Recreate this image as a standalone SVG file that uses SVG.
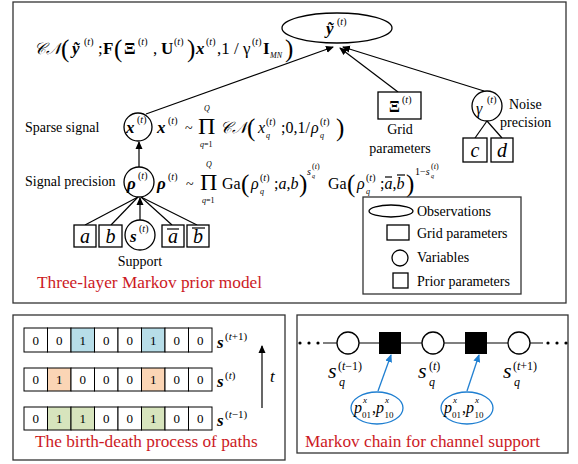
<svg xmlns="http://www.w3.org/2000/svg" width="578" height="464" viewBox="0 0 578 464">
<style>
.s{font-family:"Liberation Serif","DejaVu Serif",serif;fill:#000}
.f14{font-size:14px}
.f16{font-size:16px}
.f17{font-size:17px}
.sup{font-size:10px}
.sub{font-size:8px}
.big{font-size:25px}
.prod{font-size:24px}
.i{font-style:italic}
.b{font-weight:bold}
.bi{font-weight:bold;font-style:italic}
.red{fill:#cc1a1f;font-size:17.3px}
.ln{stroke:#000;stroke-width:1.2;fill:none}
.nd{stroke:#000;stroke-width:1.3;fill:#fff}
.frame{stroke:#333;stroke-width:1.3;fill:none}
.cell{stroke:#000;stroke-width:1;}
.blue{stroke:#1f7fd1;stroke-width:1.3;fill:none}
</style>
<defs>
<marker id="ah" markerWidth="8" markerHeight="8" refX="7" refY="4" orient="auto" markerUnits="userSpaceOnUse">
<path d="M0,0.5 L8,4 L0,7.5 z" fill="#000"/>
</marker>
<marker id="ahb" markerWidth="8" markerHeight="8" refX="7" refY="4" orient="auto" markerUnits="userSpaceOnUse">
<path d="M0,0.5 L8,4 L0,7.5 z" fill="#1f7fd1"/>
</marker>
</defs>
<rect width="578" height="464" fill="#fff"/>

<!-- frames -->
<rect class="frame" x="13" y="2" width="553" height="301"/>
<rect class="frame" x="13" y="315" width="272" height="145"/>
<rect class="frame" x="297" y="315" width="271" height="138"/>

<!-- connectors -->
<g id="connectors">
<line class="ln" x1="146" y1="114" x2="333" y2="47" marker-end="url(#ah)"/>
<line class="ln" x1="398" y1="92" x2="340" y2="48" marker-end="url(#ah)"/>
<line class="ln" x1="484" y1="91" x2="343" y2="47" marker-end="url(#ah)"/>
<line class="ln" x1="139" y1="167" x2="139" y2="142" marker-end="url(#ah)"/>
<line class="ln" x1="140" y1="220" x2="140" y2="198" marker-end="url(#ah)"/>
<line class="ln" x1="85" y1="225" x2="138" y2="197"/>
<line class="ln" x1="111" y1="225" x2="138" y2="197"/>
<line class="ln" x1="172" y1="225" x2="141" y2="197"/>
<line class="ln" x1="197" y1="225" x2="141" y2="197"/>
<line class="ln" x1="487" y1="121" x2="475" y2="138"/>
<line class="ln" x1="487" y1="121" x2="502" y2="138"/>
<line class="ln" x1="262" y1="408" x2="262" y2="346" marker-end="url(#ah)"/>
<line class="ln" x1="323" y1="343" x2="543" y2="343"/>
<line class="blue" x1="378" y1="391" x2="391" y2="355" marker-end="url(#ahb)"/>
<line class="blue" x1="467" y1="391" x2="479" y2="355" marker-end="url(#ahb)"/>
</g>

<!-- observation node -->
<g id="node-y">
<ellipse class="nd" cx="337" cy="28" rx="55" ry="15"/>
<text class="s bi f17" x="326" y="34">ỹ</text>
<text class="s sup" x="337" y="25">(<tspan class="i">t</tspan>)</text>
</g>

<!-- likelihood formula -->
<g id="formula-likelihood" class="s">
<text class="i f16" x="34" y="54">𝒞𝒩</text>
<text class="big" x="61" y="57">(</text>
<text class="bi f17" x="72" y="54">ỹ</text>
<text class="sup" x="84" y="45">(<tspan class="i">t</tspan>)</text>
<text class="f17" x="98" y="54">;</text>
<text class="b f17" x="103" y="54">F</text>
<text class="big" x="114" y="57">(</text>
<text class="b f17" x="124" y="54">Ξ</text>
<text class="sup" x="138" y="45">(<tspan class="i">t</tspan>)</text>
<text class="f17" x="153" y="54">,</text>
<text class="b f17" x="161" y="54">U</text>
<text class="sup" x="174" y="45">(<tspan class="i">t</tspan>)</text>
<text class="big" x="187" y="57">)</text>
<text class="bi f17" x="196" y="54">x</text>
<text class="sup" x="206" y="45">(<tspan class="i">t</tspan>)</text>
<text class="f17" x="217" y="54">,1 / γ</text>
<text class="sup" x="252" y="45">(<tspan class="i">t</tspan>)</text>
<text class="b f17" x="263" y="54">I</text>
<text class="i sub" x="270" y="58">MN</text>
<text class="big" x="285" y="57">)</text>
</g>

<!-- Sparse signal -->
<g id="node-x">
<text class="s f14" x="25" y="132">Sparse signal</text>
<circle class="nd" cx="138" cy="127" r="14"/>
<text class="s bi f17" x="126" y="133">x</text>
<text class="s sup" x="137" y="123">(<tspan class="i">t</tspan>)</text>
</g>
<g id="formula-x" class="s">
<text class="bi f17" x="157" y="133">x</text>
<text class="sup" x="168" y="124">(<tspan class="i">t</tspan>)</text>
<text class="f14" x="185" y="133">~</text>
<text class="prod" x="198" y="134">Π</text>
<text class="i sub" x="204" y="110.5">Q</text>
<text class="sub" x="200" y="147"><tspan class="i">q</tspan>=1</text>
<text class="i f16" x="220" y="133">𝒞𝒩</text>
<text class="big" x="247" y="136">(</text>
<text class="i f16" x="258" y="133">x</text>
<text class="sup" x="266" y="125">(<tspan class="i">t</tspan>)</text>
<text class="i sub" x="266" y="138">q</text>
<text class="f16" x="281" y="133">;0,1/</text>
<text class="i f16" x="311" y="133">ρ</text>
<text class="sup" x="320" y="125">(<tspan class="i">t</tspan>)</text>
<text class="i sub" x="320" y="138">q</text>
<text class="big" x="336" y="136">)</text>
</g>

<!-- Signal precision -->
<g id="node-rho">
<text class="s f14" x="25" y="186">Signal precision</text>
<circle class="nd" cx="139" cy="182" r="15"/>
<text class="s bi f17" x="127" y="189">ρ</text>
<text class="s sup" x="138" y="179">(<tspan class="i">t</tspan>)</text>
</g>
<g id="formula-rho" class="s">
<text class="bi f17" x="157" y="189">ρ</text>
<text class="sup" x="168" y="180">(<tspan class="i">t</tspan>)</text>
<text class="f14" x="186" y="189">~</text>
<text class="prod" x="200" y="190">Π</text>
<text class="i sub" x="206" y="166.5">Q</text>
<text class="sub" x="202" y="203"><tspan class="i">q</tspan>=1</text>
<text class="f16" x="222" y="189">Ga</text>
<text class="big" x="241" y="192">(</text>
<text class="i f16" x="251" y="189">ρ</text>
<text class="sup" x="260" y="181">(<tspan class="i">t</tspan>)</text>
<text class="i sub" x="260" y="194">q</text>
<text class="f16" x="274" y="189">;<tspan class="i">a</tspan>,<tspan class="i">b</tspan></text>
<text class="big" x="299" y="192">)</text>
<text class="i sup" x="307" y="175">s</text>
<text class="sub" font-size="6" x="312" y="169">(<tspan class="i">t</tspan>)</text>
<text class="i" font-size="6" x="312" y="178">q</text>
<text class="f16" x="328" y="189">Ga</text>
<text class="big" x="347" y="192">(</text>
<text class="i f16" x="357" y="189">ρ</text>
<text class="sup" x="366" y="181">(<tspan class="i">t</tspan>)</text>
<text class="i sub" x="366" y="194">q</text>
<text class="f16" x="380" y="189">;<tspan class="i">a</tspan>,<tspan class="i">b</tspan></text>
<line class="ln" stroke-width="0.9" x1="385" y1="177" x2="392" y2="177"/>
<line class="ln" stroke-width="0.9" x1="397" y1="175" x2="405" y2="175"/>
<text class="big" x="406" y="192">)</text>
<text class="sup" x="415" y="175">1−<tspan class="i">s</tspan></text>
<text class="sub" font-size="6" x="431" y="169">(<tspan class="i">t</tspan>)</text>
<text class="i" font-size="6" x="431" y="178">q</text>
</g>

<!-- prior parameter nodes -->
<g id="node-a"><rect class="nd" x="74" y="225" width="22" height="22"/><text class="s i" font-size="20" x="85" y="243" text-anchor="middle">a</text></g>
<g id="node-b"><rect class="nd" x="99" y="225" width="23" height="22"/><text class="s i" font-size="20" x="110.5" y="243" text-anchor="middle">b</text></g>
<g id="node-s">
<circle class="nd" cx="140" cy="235" r="15"/>
<text class="s bi f17" x="130" y="242">s</text>
<text class="s sup" x="139" y="232">(<tspan class="i">t</tspan>)</text>
<text class="s f14" x="140" y="266" text-anchor="middle">Support</text>
</g>
<g id="node-abar"><rect class="nd" x="162" y="225" width="22" height="22"/><text class="s i" font-size="20" x="173" y="243" text-anchor="middle">a</text><line class="ln" stroke-width="1" x1="167" y1="229" x2="179" y2="229"/></g>
<g id="node-bbar"><rect class="nd" x="187" y="225" width="22" height="22"/><text class="s i" font-size="20" x="198" y="243" text-anchor="middle">b</text><line class="ln" stroke-width="1" x1="192" y1="228" x2="205" y2="228"/></g>

<!-- grid parameters -->
<g id="node-xi">
<rect class="nd" x="378" y="92" width="43" height="27"/>
<text class="s b f16" x="389" y="112">Ξ</text>
<text class="s sup" x="402" y="103">(<tspan class="i">t</tspan>)</text>
<text class="s f14" x="400" y="134" text-anchor="middle">Grid</text>
<text class="s f14" x="400" y="153" text-anchor="middle">parameters</text>
</g>

<!-- noise precision -->
<g id="node-gamma">
<circle class="nd" cx="487" cy="106" r="15"/>
<text class="s i f16" x="476" y="114">γ</text>
<text class="s sup" x="487" y="103">(<tspan class="i">t</tspan>)</text>
<text class="s f14" x="509" y="109">Noise</text>
<text class="s f14" x="500" y="127">precision</text>
</g>
<g id="node-c"><rect class="nd" x="463" y="138" width="24" height="24"/><text class="s i" font-size="20" x="475" y="157" text-anchor="middle">c</text></g>
<g id="node-d"><rect class="nd" x="491" y="138" width="22" height="24"/><text class="s i" font-size="20" x="502" y="157" text-anchor="middle">d</text></g>

<!-- legend -->
<g id="legend">
<rect class="frame" stroke="#000" x="363" y="197" width="158" height="97"/>
<ellipse class="nd" cx="391" cy="211" rx="22" ry="6"/>
<text class="s f14" x="417" y="216">Observations</text>
<rect class="nd" x="387" y="225" width="22" height="15"/>
<text class="s f14" x="417" y="238">Grid parameters</text>
<circle class="nd" cx="400" cy="258" r="8"/>
<text class="s f14" x="417" y="262">Variables</text>
<rect class="nd" x="393" y="273" width="15" height="15"/>
<text class="s f14" x="417" y="286">Prior parameters</text>
</g>

<text class="s red" x="37" y="288">Three-layer Markov prior model</text>

<!-- birth-death -->
<g id="birth-death">
<g class="cell">
<rect x="24" y="328" width="23.5" height="24" fill="#fff"/>
<rect x="47.5" y="328" width="23.5" height="24" fill="#fff"/>
<rect x="71" y="328" width="23.5" height="24" fill="#b7dde8"/>
<rect x="94.5" y="328" width="23.5" height="24" fill="#fff"/>
<rect x="118" y="328" width="23.5" height="24" fill="#fff"/>
<rect x="141.5" y="328" width="23.5" height="24" fill="#b7dde8"/>
<rect x="165" y="328" width="23.5" height="24" fill="#fff"/>
<rect x="188.5" y="328" width="23.5" height="24" fill="#fff"/>

<rect x="24" y="368" width="23.5" height="23" fill="#fff"/>
<rect x="47.5" y="368" width="23.5" height="23" fill="#fbd5b5"/>
<rect x="71" y="368" width="23.5" height="23" fill="#fff"/>
<rect x="94.5" y="368" width="23.5" height="23" fill="#fff"/>
<rect x="118" y="368" width="23.5" height="23" fill="#fff"/>
<rect x="141.5" y="368" width="23.5" height="23" fill="#fbd5b5"/>
<rect x="165" y="368" width="23.5" height="23" fill="#fff"/>
<rect x="188.5" y="368" width="23.5" height="23" fill="#fff"/>

<rect x="24" y="407" width="23.5" height="23" fill="#fff"/>
<rect x="47.5" y="407" width="23.5" height="23" fill="#d7e4bd"/>
<rect x="71" y="407" width="23.5" height="23" fill="#d7e4bd"/>
<rect x="94.5" y="407" width="23.5" height="23" fill="#fff"/>
<rect x="118" y="407" width="23.5" height="23" fill="#fff"/>
<rect x="141.5" y="407" width="23.5" height="23" fill="#d7e4bd"/>
<rect x="165" y="407" width="23.5" height="23" fill="#fff"/>
<rect x="188.5" y="407" width="23.5" height="23" fill="#fff"/>
</g>
<g class="s" font-size="13" text-anchor="middle">
<text x="35.75" y="345">0</text><text x="59.25" y="345">0</text><text x="82.75" y="345">1</text><text x="106.25" y="345">0</text><text x="129.75" y="345">0</text><text x="153.25" y="345">1</text><text x="176.75" y="345">0</text><text x="200.25" y="345">0</text>
<text x="35.75" y="384">0</text><text x="59.25" y="384">1</text><text x="82.75" y="384">0</text><text x="106.25" y="384">0</text><text x="129.75" y="384">0</text><text x="153.25" y="384">1</text><text x="176.75" y="384">0</text><text x="200.25" y="384">0</text>
<text x="35.75" y="423">0</text><text x="59.25" y="423">1</text><text x="82.75" y="423">1</text><text x="106.25" y="423">0</text><text x="129.75" y="423">0</text><text x="153.25" y="423">1</text><text x="176.75" y="423">0</text><text x="200.25" y="423">0</text>
</g>
<text class="s bi f17" x="217" y="348">s</text><text class="s" font-size="11" x="225" y="340">(<tspan class="i">t</tspan>+1)</text>
<text class="s bi f17" x="217" y="387">s</text><text class="s" font-size="11" x="225" y="379">(<tspan class="i">t</tspan>)</text>
<text class="s bi f17" x="217" y="426">s</text><text class="s" font-size="11" x="225" y="418">(<tspan class="i">t</tspan>−1)</text>
<text class="s i f17" x="270" y="382">t</text>
<text class="s red" x="35" y="447">The birth-death process of paths</text>
</g>

<!-- Markov chain -->
<g id="markov-chain">
<g fill="#000"><circle cx="300" cy="343" r="1.6"/><circle cx="309" cy="343" r="1.6"/><circle cx="318" cy="343" r="1.6"/>
<circle cx="548" cy="343" r="1.6"/><circle cx="557" cy="343" r="1.6"/><circle cx="566" cy="343" r="1.6"/></g>
<g id="chain-s1"><circle class="nd" cx="348" cy="343" r="11"/>
<text class="s i" font-size="22" x="328" y="378">s</text><text class="s" font-size="12" x="338" y="370">(<tspan class="i">t</tspan>−1)</text><text class="s i" font-size="12" x="339" y="386">q</text></g>
<g id="chain-f1"><rect x="379" y="332" width="22" height="22" fill="#000"/></g>
<g id="chain-s2"><circle class="nd" cx="433" cy="343" r="11"/>
<text class="s i" font-size="22" x="418" y="378">s</text><text class="s" font-size="12" x="429" y="370">(<tspan class="i">t</tspan>)</text><text class="s i" font-size="12" x="429" y="386">q</text></g>
<g id="chain-f2"><rect x="465" y="332" width="22" height="22" fill="#000"/></g>
<g id="chain-s3"><circle class="nd" cx="519" cy="343" r="11"/>
<text class="s i" font-size="22" x="503" y="378">s</text><text class="s" font-size="12" x="513" y="370">(<tspan class="i">t</tspan>+1)</text><text class="s i" font-size="12" x="514" y="386">q</text></g>
<g id="chain-p1"><ellipse class="blue" cx="377" cy="408" rx="26" ry="16"/>
<text class="s i f16" x="354" y="413">p</text><text class="s" font-size="9" x="362" y="418">01</text><text class="s i" font-size="9" x="363" y="403">x</text>
<text class="s f16" x="372" y="413">,<tspan class="i">p</tspan></text><text class="s" font-size="9" x="384.5" y="418">10</text><text class="s i" font-size="9" x="385" y="403">x</text></g>
<g id="chain-p2"><ellipse class="blue" cx="467" cy="408" rx="26" ry="16"/>
<text class="s i f16" x="444" y="413">p</text><text class="s" font-size="9" x="452" y="418">01</text><text class="s i" font-size="9" x="453" y="403">x</text>
<text class="s f16" x="462" y="413">,<tspan class="i">p</tspan></text><text class="s" font-size="9" x="474.5" y="418">10</text><text class="s i" font-size="9" x="475" y="403">x</text></g>
<text class="s red" x="305" y="447">Markov chain for channel support</text>
</g>
</svg>
